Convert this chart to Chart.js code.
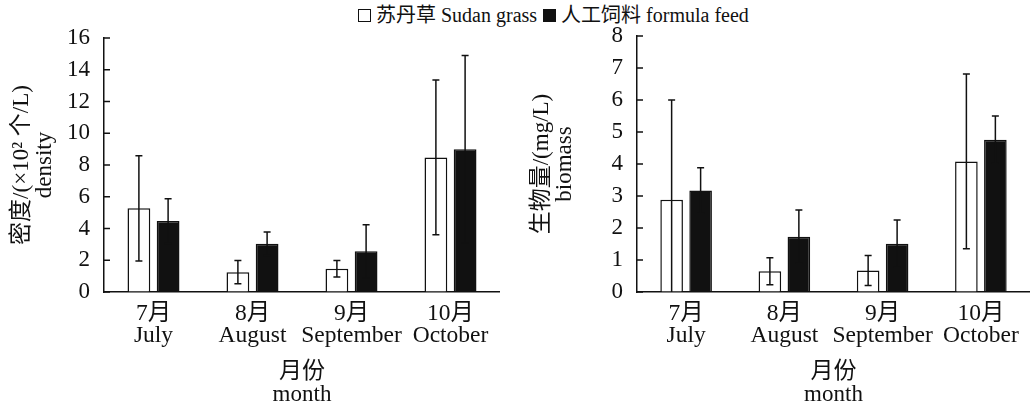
<!DOCTYPE html>
<html><head><meta charset="utf-8">
<script src="https://cdn.jsdelivr.net/npm/chart.js@4.4.1/dist/chart.umd.min.js"></script>
<style>
html,body{margin:0;padding:0;background:#fff;overflow:hidden;width:1030px;height:408px;}
#c1{position:absolute;left:0;top:0;}
#c2{position:absolute;left:520px;top:0;}
#legend{position:absolute;left:358px;top:3px;font-family:"Liberation Serif","Noto Sans CJK SC",serif;font-size:20px;color:#111;display:flex;align-items:center;white-space:nowrap;line-height:24px;}
.box{display:inline-block;width:13px;height:13px;box-sizing:border-box;border:1.5px solid #111;margin-right:5px;}
.item{display:flex;align-items:center;margin-right:6px;}
</style></head>
<body>
<div id="legend"></div>
<canvas id="c1" width="500" height="408"></canvas>
<canvas id="c2" width="510" height="408"></canvas>
<script>
// ---- data ----
const months = [['7月','July'],['8月','August'],['9月','September'],['10月','October']];
const seriesNames = ['苏丹草 Sudan grass','人工饲料 formula feed'];
const seriesFill = ['#ffffff','#111111'];

const sudanDensity   = [5.27, 1.25, 1.47, 8.48];
const sudanDensitySD = [3.32, 0.73, 0.52, 4.87];
const feedDensity    = [4.47, 3.04, 2.56, 8.99];
const feedDensitySD  = [1.41, 0.74, 1.68, 5.90];

const sudanBiomass   = [2.88, 0.65, 0.67, 4.08];
const sudanBiomassSD = [3.12, 0.42, 0.47, 2.73];
const feedBiomass    = [3.17, 1.73, 1.51, 4.76];
const feedBiomassSD  = [0.71, 0.83, 0.74, 0.74];

const densityTitle = ['密度/(×10² 个/L)','density'];
const biomassTitle = ['生物量/(mg/L)','biomass'];
const xTitle = ['月份','month'];

// ---- legend ----
const lg = document.getElementById('legend');
seriesNames.forEach((n,i)=>{
  const it = document.createElement('span'); it.className='item';
  const b = document.createElement('span'); b.className='box'; b.style.background=seriesFill[i];
  const t = document.createElement('span'); t.textContent=n;
  it.appendChild(b); it.appendChild(t); lg.appendChild(it);
});

const FONT = '"Liberation Serif", "Noto Sans CJK SC", serif';
Chart.defaults.font.family = FONT;
Chart.defaults.color = '#111';

const errorBars = {
  id:'errorBars',
  afterDatasetsDraw(chart){
    const {ctx, chartArea} = chart; const y = chart.scales.y;
    ctx.save();
    ctx.beginPath();
    ctx.rect(chartArea.left, 0, chartArea.right-chartArea.left, chartArea.bottom);
    ctx.clip();
    ctx.strokeStyle = '#111'; ctx.lineWidth = 1.5;
    chart.data.datasets.forEach((ds,i)=>{
      chart.getDatasetMeta(i).data.forEach((bar,j)=>{
        const m = ds.data[j], e = ds.errors[j];
        const yt = y.getPixelForValue(m+e), yb = y.getPixelForValue(m-e);
        const x = bar.x;
        ctx.beginPath();
        ctx.moveTo(x, yt); ctx.lineTo(x, yb);
        ctx.moveTo(x-3.5, yt); ctx.lineTo(x+3.5, yt);
        ctx.moveTo(x-3.5, yb); ctx.lineTo(x+3.5, yb);
        ctx.stroke();
      });
    });
    ctx.restore();
  }
};
const innerTicks = {
  id:'innerTicks',
  afterDraw(chart){
    const {ctx, chartArea} = chart; const y = chart.scales.y;
    ctx.save(); ctx.strokeStyle='#111'; ctx.lineWidth=1.5;
    y.ticks.forEach(t=>{
      const py = y.getPixelForValue(t.value);
      ctx.beginPath(); ctx.moveTo(chartArea.left, py); ctx.lineTo(chartArea.left+6, py); ctx.stroke();
    });
    ctx.restore();
  }
};

function makeChart(id, a, aSD, b, bSD, yMax, yStep, yTitle, yWidth, topPad){
  return new Chart(document.getElementById(id), {
    type:'bar',
    data:{
      labels: months,
      datasets:[
        {label: seriesNames[0], data:a, errors:aSD, backgroundColor:seriesFill[0], borderColor:'#111', borderWidth:1.5},
        {label: seriesNames[1], data:b, errors:bSD, backgroundColor:seriesFill[1], borderColor:'#111', borderWidth:1.5}
      ]
    },
    options:{
      responsive:false, animation:false,
      layout:{padding:{top:topPad, left:0, right:0, bottom:0}},
      datasets:{bar:{categoryPercentage:0.59, barPercentage:0.78}},
      plugins:{legend:{display:false}, tooltip:{enabled:false}},
      scales:{
        x:{
          z:1,
          grid:{display:true, drawOnChartArea:false, drawTicks:false},
          border:{display:true, color:'#111', width:1.5},
          ticks:{font:{size:23.5, lineHeight:0.95}, padding:10.5, color:'#111', maxRotation:0, autoSkip:false},
          title:{display:true, text:xTitle, font:{size:23, lineHeight:1.0}, padding:{top:0,bottom:1.5}, color:'#111'},
          afterFit(s){ s.height = 116; }
        },
        y:{
          z:1,
          min:0, max:yMax,
          grid:{display:true, drawOnChartArea:false, drawTicks:false},
          border:{display:true, color:'#111', width:1.5},
          ticks:{stepSize:yStep, font:{size:23}, padding:14, color:'#111'},
          title:{display:true, text:yTitle, font:{size:23, lineHeight:1.0}, padding:{top:10.5,bottom:0}, color:'#111'},
          afterFit(s){ s.width = yWidth; }
        }
      }
    },
    plugins:[errorBars, innerTicks]
  });
}

makeChart('c1', sudanDensity, sudanDensitySD, feedDensity, feedDensitySD, 16, 2, densityTitle, 104, 38);
makeChart('c2', sudanBiomass, sudanBiomassSD, feedBiomass, feedBiomassSD, 8, 1, biomassTitle, 117, 36);
</script>
</body></html>
